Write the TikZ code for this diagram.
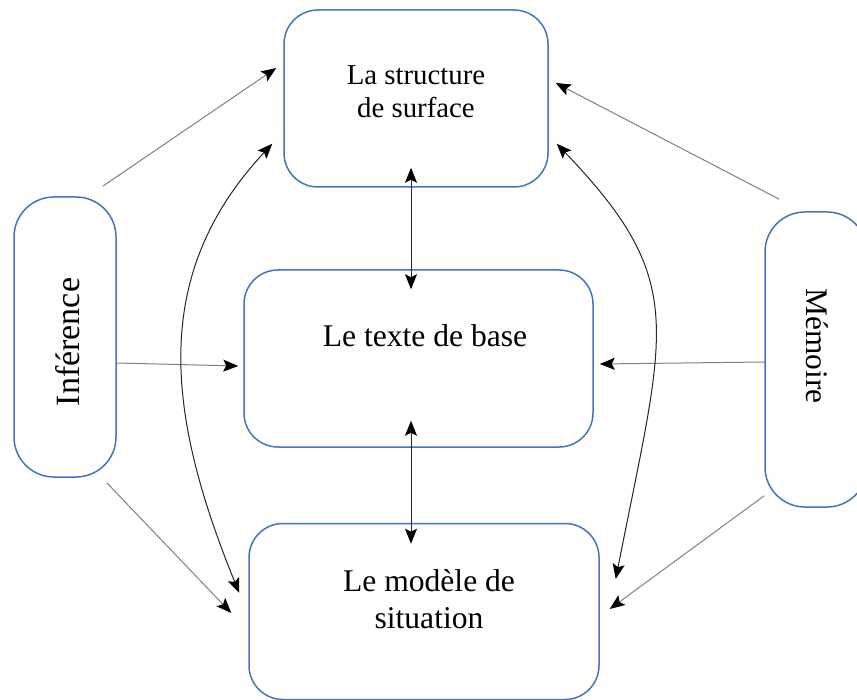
\documentclass[tikz,border=0pt]{standalone}
\usepackage{fontspec}
\setmainfont{Liberation Serif}
\usetikzlibrary{arrows.meta}
\definecolor{boxblue}{RGB}{68,114,196}

\begin{document}
\begin{tikzpicture}[x=0.5pt,y=-0.5pt,
    box/.style={draw=boxblue, line width=0.75pt, rounded corners=17pt, inner sep=0pt},
    side/.style={box, rounded corners=20pt, minimum width=51pt},
    lbl/.style={align=center, inner sep=0pt},
    tip/.tip={Stealth[length=7.5pt,width=6pt,inset=1.5pt,color=black]},
    feed/.style={draw=gray, line width=0.5pt, -tip},
    link/.style={draw=black!85, line width=0.5pt, tip-tip}]
            \useasboundingbox (0,0) rectangle (857,700);
            \clip (0,0) rectangle (857,700);
            % the three levels
            \node[box, minimum width=132pt, minimum height=88.5pt] (surf) at (416,98.5) {};
            \node[box, minimum width=174.5pt, minimum height=88.5pt] (base) at (418.5,358.5) {};
            \node[box, minimum width=175pt, minimum height=88pt] (sit) at (424,611.5) {};
            \node[lbl, font=\fontsize{14.4}{16.5}\selectfont] (surft) at (416,92) {La structure\\de surface};
            \node[lbl, font=\fontsize{15.8}{18.5}\selectfont] (baset) at (425,336) {Le texte de base};
            \node[lbl, font=\fontsize{15.8}{18.5}\selectfont] (sitt) at (429,599) {Le modèle de\\situation};
            % the two side boxes
            \node[side, minimum height=140pt] (inf) at (65,337) {};
            \node[side, minimum height=147.5pt] (mem) at (816,359.5) {};
            \node[lbl, rotate=90, font=\fontsize{17}{20}\selectfont] (inft) at (68,342) {Inférence};
            \node[lbl, rotate=-90, font=\fontsize{15.7}{19}\selectfont] (memt) at (817,346) {Mémoire};
            % straight arrows from the sides
            \draw[feed] ([shift={(-14,-10)}]inf.north east) -- ([shift={(-7,-30.5)}]surf.west);
            \draw[feed] ([shift={(15,-12)}]mem.north west) -- ([shift={(7,-15.5)}]surf.east);
            \draw[feed] ([shift={(0,26)}]inf.east) -- ([shift={(-5,7.5)}]base.west);
            \draw[feed] ([shift={(0,2.5)}]mem.west) -- ([shift={(6,5.5)}]base.east);
            \draw[feed] ([shift={(-10,5)}]inf.south east) -- ([shift={(-17,1.5)}]sit.west);
            \draw[feed] ([shift={(0,-12)}]mem.south west) -- ([shift={(10,-2.5)}]sit.east);
            % links between the levels
            \draw[link] ([shift={(-5,-20)}]surf.south) -- ([shift={(-7.5,20)}]base.north);
            \draw[link] ([shift={(-7.5,-27)}]base.south) -- ([shift={(-13,21)}]sit.north);
            \draw[link] ([shift={(-11,-44)}]surf.south west) .. controls (150,275) and (166,413) .. ([shift={(-9,-18.5)}]sit.west);
            \draw[link] ([shift={(8,-44)}]surf.south east) .. controls (690,283) and (665,327) .. ([shift={(16,-32.5)}]sit.east);
        \end{tikzpicture}
\end{document}
